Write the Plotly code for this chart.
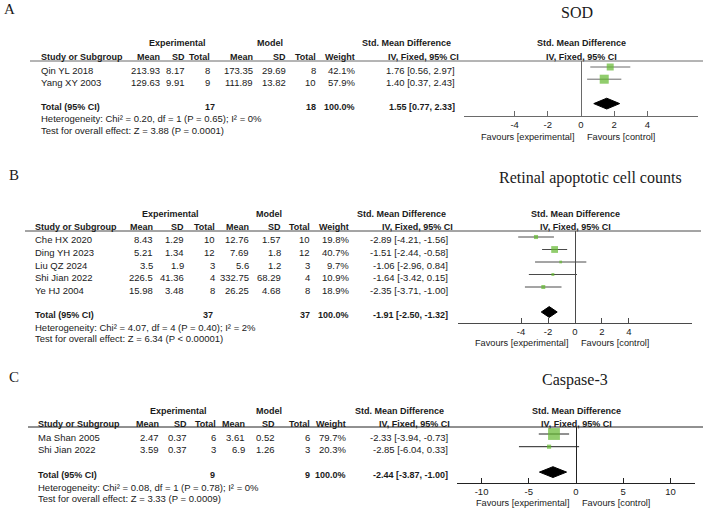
import plotly.graph_objects as go

W, H = 708, 513

# ---------------- Data ----------------
# Panel A: SOD
studies_A = ["Qin YL 2018", "Yang XY 2003"]
exp_mean_A = [213.93, 129.63]
exp_sd_A = [8.17, 9.91]
exp_n_A = [8, 9]
mod_mean_A = [173.35, 111.89]
mod_sd_A = [29.69, 13.82]
mod_n_A = [8, 10]
weight_A = [42.1, 57.9]
smd_A = [1.76, 1.40]
lo_A = [0.56, 0.37]
hi_A = [2.97, 2.43]
total_A = [1.55, 0.77, 2.33]
total_n_A = [17, 18]
het_A = "Heterogeneity: Chi² = 0.20, df = 1 (P = 0.65); I² = 0%"
test_A = "Test for overall effect: Z = 3.88 (P = 0.0001)"

# Panel B: Retinal apoptotic cell counts
studies_B = ["Che HX 2020", "Ding YH 2023", "Liu QZ 2024", "Shi Jian 2022", "Ye HJ 2004"]
exp_mean_B = [8.43, 5.21, 3.5, 226.5, 15.98]
exp_sd_B = [1.29, 1.34, 1.9, 41.36, 3.48]
exp_n_B = [10, 12, 3, 4, 8]
mod_mean_B = [12.76, 7.69, 5.6, 332.75, 26.25]
mod_sd_B = [1.57, 1.8, 1.2, 68.29, 4.68]
mod_n_B = [10, 12, 3, 4, 8]
weight_B = [19.8, 40.7, 9.7, 10.9, 18.9]
smd_B = [-2.89, -1.51, -1.06, -1.64, -2.35]
lo_B = [-4.21, -2.44, -2.96, -3.42, -3.71]
hi_B = [-1.56, -0.58, 0.84, 0.15, -1.00]
total_B = [-1.91, -2.50, -1.32]
total_n_B = [37, 37]
het_B = "Heterogeneity: Chi² = 4.07, df = 4 (P = 0.40); I² = 2%"
test_B = "Test for overall effect: Z = 6.34 (P < 0.00001)"

# Panel C: Caspase-3
studies_C = ["Ma Shan 2005", "Shi Jian 2022"]
exp_mean_C = [2.47, 3.59]
exp_sd_C = [0.37, 0.37]
exp_n_C = [6, 3]
mod_mean_C = [3.61, 6.9]
mod_sd_C = [0.52, 1.26]
mod_n_C = [6, 3]
weight_C = [79.7, 20.3]
smd_C = [-2.33, -2.85]
lo_C = [-3.94, -6.04]
hi_C = [-0.73, 0.33]
total_C = [-2.44, -3.87, -1.00]
total_n_C = [9, 9]
het_C = "Heterogeneity: Chi² = 0.08, df = 1 (P = 0.78); I² = 0%"
test_C = "Test for overall effect: Z = 3.33 (P = 0.0009)"

ticks_AB = [-4, -2, 0, 2, 4]
ticklabels_AB = ["-4", "-2", "0", "2", "4"]
ticks_C = [-10, -5, 0, 5, 10]
ticklabels_C = ["-10", "-5", "0", "5", "10"]

# ---------------- Layout parameters (pixels) ----------------
panels = [
    dict(letter="A", title="SOD",
         studies=studies_A, em=exp_mean_A, es=exp_sd_A, en=exp_n_A,
         mm=mod_mean_A, ms=mod_sd_A, mn=mod_n_A, w=weight_A,
         smd=smd_A, lo=lo_A, hi=hi_A, tot=total_A, totn=total_n_A,
         het=het_A, test=test_A, tv=ticks_AB, tt=ticklabels_AB,
         letter_xy=(2, 9), title_xy=(577, 12),
         h1=43, h2=57, line_y=61, line_x=(30, 703),
         row_top=67, row_step=12.2, axis_y=116,
         xdom=(464, 698), xhalf=7.05,
         cols=dict(study=39, em=162, es=187, en=212, mm=255, ms=288, mn=318,
                   w=357, est=457, exp_c=177, mod_c=270, smd1=407, smd2=423, totexp=217),
         het_y=119, test_y=130, fav_y=137, lc="#6a6a6a"),
    dict(letter="B", title="Retinal apoptotic cell counts",
         studies=studies_B, em=exp_mean_B, es=exp_sd_B, en=exp_n_B,
         mm=mod_mean_B, ms=mod_sd_B, mn=mod_n_B, w=weight_B,
         smd=smd_B, lo=lo_B, hi=hi_B, tot=total_B, totn=total_n_B,
         het=het_B, test=test_B, tv=ticks_AB, tt=ticklabels_AB,
         letter_xy=(7, 175), title_xy=(590, 178),
         h1=214, h2=227, line_y=231, line_x=(25, 701),
         row_top=237, row_step=12.5, axis_y=323,
         xdom=(458, 692), xhalf=8.67,
         cols=dict(study=33, em=155, es=186, en=217, mm=251, ms=283, mn=312,
                   w=351, est=450, exp_c=170, mod_c=269, smd1=401, smd2=417, totexp=215),
         het_y=327, test_y=338, fav_y=343, lc="#4a4a4a"),
    dict(letter="C", title="Caspase-3",
         studies=studies_C, em=exp_mean_C, es=exp_sd_C, en=exp_n_C,
         mm=mod_mean_C, ms=mod_sd_C, mn=mod_n_C, w=weight_C,
         smd=smd_C, lo=lo_C, hi=hi_C, tot=total_C, totn=total_n_C,
         het=het_C, test=test_C, tv=ticks_C, tt=ticklabels_C,
         letter_xy=(7, 377), title_xy=(575, 380),
         h1=411, h2=424, line_y=427, line_x=(28, 703),
         row_top=434, row_step=12.7, axis_y=483,
         xdom=(457, 695), xhalf=12.6,
         cols=dict(study=36, em=161, es=189, en=218, mm=247, ms=277, mn=312,
                   w=348, est=450, exp_c=179, mod_c=269, smd1=399, smd2=414, totexp=217),
         het_y=487, test_y=498, fav_y=503, lc="#222222"),
]

SANS = "Liberation Sans, Arial, sans-serif"
SERIF = "Liberation Serif, Times New Roman, serif"
GREEN = "#62b82f"
TXT = "#1a1a1a"
FS = 9.5   # regular table text
FB = 9     # bold header text


def pxx(x):
    return x / W


def pyy(y):
    return 1 - y / H


fig = go.Figure()
annotations = []
shapes = []


def ann(text, x, y, xanchor="left", yref="paper", xref="paper", bold=False,
        size=None, family=SANS, yshift=0, xshift=0):
    if size is None:
        size = FB if bold else FS
    if bold:
        text = "<b>" + text + "</b>"
    annotations.append(dict(text=text, x=x, y=y, xref=xref, yref=yref,
                            xanchor=xanchor, yanchor="middle", showarrow=False,
                            font=dict(size=size, family=family, color=TXT),
                            yshift=yshift, xshift=xshift))


for k, p in enumerate(panels, start=1):
    xa = "x" if k == 1 else f"x{k}"
    ya = "y" if k == 1 else f"y{k}"
    xkey = "xaxis" if k == 1 else f"xaxis{k}"
    ykey = "yaxis" if k == 1 else f"yaxis{k}"
    n = len(p["studies"])
    rows = list(range(n))
    trow = n + 1
    step = p["row_step"]
    top = p["row_top"]
    yr = [(p["axis_y"] - top) / step, (p["line_y"] - top) / step]

    fig.update_layout({
        xkey: dict(domain=[pxx(p["xdom"][0]), pxx(p["xdom"][1])],
                   range=[-p["xhalf"], p["xhalf"]], anchor=ya,
                   showline=True, linecolor=p["lc"], linewidth=1,
                   ticks="inside", ticklen=5, tickcolor=p["lc"], tickwidth=1,
                   tickvals=p["tv"], ticktext=p["tt"],
                   tickfont=dict(size=9.5, family=SANS, color=TXT),
                   showgrid=False, zeroline=True, zerolinecolor=p["lc"],
                   zerolinewidth=1, fixedrange=True),
        ykey: dict(domain=[pyy(p["axis_y"]), pyy(p["line_y"])], range=yr,
                   anchor=xa, visible=False, showgrid=False, zeroline=False,
                   fixedrange=True),
    })

    # CI lines
    cx, cy = [], []
    for r, l, h in zip(rows, p["lo"], p["hi"]):
        cx += [l, h, None]
        cy += [r, r, None]
    fig.add_trace(go.Scatter(x=cx, y=cy, mode="lines", xaxis=xa, yaxis=ya,
                             line=dict(color=p["lc"], width=1),
                             showlegend=False, hoverinfo="skip"))
    # squares (area scaled by weight)
    fig.add_trace(go.Scatter(x=p["smd"], y=rows, mode="markers", xaxis=xa, yaxis=ya,
                             marker=dict(symbol="square", color=GREEN,
                                         size=[1.5 + 0.13 * w for w in p["w"]],
                                         line=dict(width=0)),
                             showlegend=False, hoverinfo="skip"))
    # diamond
    m, l, h = p["tot"]
    dh = 5.4 / step
    fig.add_trace(go.Scatter(x=[l, m, h, m, l], y=[trow, trow - dh, trow, trow + dh, trow],
                             mode="lines", fill="toself", fillcolor="black",
                             line=dict(color="black", width=1), xaxis=xa, yaxis=ya,
                             showlegend=False, hoverinfo="skip"))

    c = p["cols"]
    # letters and titles
    ann(p["letter"], pxx(p["letter_xy"][0]), pyy(p["letter_xy"][1]), size=15, family=SERIF)
    ann(p["title"], pxx(p["title_xy"][0]), pyy(p["title_xy"][1]), xanchor="center",
        size=16, family=SERIF)

    # header row 1
    ann("Experimental", pxx(c["exp_c"]), pyy(p["h1"]), "center", bold=True)
    ann("Model", pxx(c["mod_c"]), pyy(p["h1"]), "center", bold=True)
    ann("Std. Mean Difference", pxx(c["smd1"]), pyy(p["h1"]), "center", bold=True)
    ann("Std. Mean Difference", 0, pyy(p["h1"]), "center", xref=xa, bold=True)
    # header row 2
    ann("Study or Subgroup", pxx(c["study"]), pyy(p["h2"]), "left", bold=True)
    for key, lab in [("em", "Mean"), ("es", "SD"), ("en", "Total"),
                     ("mm", "Mean"), ("ms", "SD"), ("mn", "Total"), ("w", "Weight")]:
        ann(lab, pxx(c[key]), pyy(p["h2"]), "right", bold=True)
    ann("IV, Fixed, 95% CI", pxx(c["smd2"]), pyy(p["h2"]), "center", bold=True)
    ann("IV, Fixed, 95% CI", 0, pyy(p["h2"]), "center", xref=xa, bold=True)
    shapes.append(dict(type="line", xref="paper", yref="paper",
                       x0=pxx(p["line_x"][0]), x1=pxx(p["line_x"][1]),
                       y0=pyy(p["line_y"]), y1=pyy(p["line_y"]),
                       line=dict(color=p["lc"], width=1)))

    # study rows
    for i in rows:
        ys = -3
        ann(p["studies"][i], pxx(c["study"]), i, "left", yref=ya, yshift=ys)
        ann(f"{p['em'][i]:g}", pxx(c["em"]), i, "right", yref=ya, yshift=ys)
        ann(f"{p['es'][i]:g}", pxx(c["es"]), i, "right", yref=ya, yshift=ys)
        ann(f"{p['en'][i]}", pxx(c["en"]), i, "right", yref=ya, yshift=ys)
        ann(f"{p['mm'][i]:g}", pxx(c["mm"]), i, "right", yref=ya, yshift=ys)
        ann(f"{p['ms'][i]:g}", pxx(c["ms"]), i, "right", yref=ya, yshift=ys)
        ann(f"{p['mn'][i]}", pxx(c["mn"]), i, "right", yref=ya, yshift=ys)
        ann(f"{p['w'][i]:.1f}%", pxx(c["w"]), i, "right", yref=ya, yshift=ys)
        ann(f"{p['smd'][i]:.2f} [{p['lo'][i]:.2f}, {p['hi'][i]:.2f}]",
            pxx(c["est"]), i, "right", yref=ya, yshift=ys)

    # total row
    ann("Total (95% CI)", pxx(c["study"]), trow, "left", yref=ya, yshift=-3, bold=True)
    ann(f"{p['totn'][0]}", pxx(c["totexp"]), trow, "right", yref=ya, yshift=-3, bold=True)
    ann(f"{p['totn'][1]}", pxx(c["mn"]), trow, "right", yref=ya, yshift=-3, bold=True)
    ann(f"{sum(p['w']):.1f}%", pxx(c["w"]), trow, "right", yref=ya, yshift=-3, bold=True)
    ann(f"{m:.2f} [{l:.2f}, {h:.2f}]", pxx(c["est"]), trow, "right", yref=ya,
        yshift=-3, bold=True)

    ann(p["het"], pxx(c["study"]), pyy(p["het_y"]), "left")
    ann(p["test"], pxx(c["study"]), pyy(p["test_y"]), "left")

    ann("Favours [experimental]", 0, pyy(p["fav_y"]), "right", xref=xa, xshift=-5, size=9.2)
    ann("Favours [control]", 0, pyy(p["fav_y"]), "left", xref=xa, xshift=4, size=9.2)

fig.update_layout(width=W, height=H, margin=dict(l=0, r=0, t=0, b=0),
                  paper_bgcolor="white", plot_bgcolor="rgba(0,0,0,0)",
                  showlegend=False, annotations=annotations, shapes=shapes,
                  hovermode=False)

fig.write_html("out.html", config={"displayModeBar": False})
